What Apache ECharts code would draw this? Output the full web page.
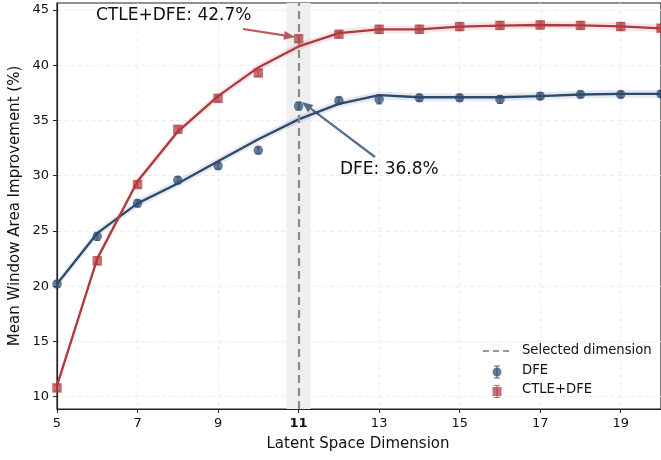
<!DOCTYPE html>
<html><head><meta charset="utf-8">
<script src="https://cdn.jsdelivr.net/npm/echarts@6/dist/echarts.min.js"></script>
<style>html,body{margin:0;padding:0;background:#fff}#c{width:661px;height:460px}</style>
</head><body><div id="c"></div>
<script>
const dims = [5,6,7,8,9,10,11,12,13,14,15,16,17,18,19,20];
const dfeMean = [20.2,24.5,27.5,29.6,30.9,32.3,36.3,36.8,36.9,37.05,37.05,36.9,37.2,37.35,37.35,37.4];
const dfeErr  = [0.25,0.35,0.3,0.3,0.3,0.3,0.35,0.3,0.4,0.3,0.3,0.35,0.3,0.3,0.3,0.3];
const dfeFit  = [20.2,24.8,27.5,29.3,31.3,33.3,35.1,36.5,37.3,37.1,37.1,37.1,37.2,37.35,37.4,37.4];
const ctleMean = [10.8,22.3,29.2,34.2,37.0,39.3,42.4,42.8,43.25,43.25,43.5,43.6,43.64,43.6,43.5,43.35];
const ctleErr  = [0.3,0.35,0.3,0.3,0.3,0.3,0.3,0.3,0.35,0.35,0.35,0.35,0.35,0.35,0.35,0.3];
const ctleFit  = [11.0,22.5,29.5,34.0,37.2,39.8,41.7,42.9,43.25,43.25,43.5,43.58,43.64,43.6,43.52,43.34];
const bandHalf = 0.35;
const xTicks = [5,7,9,11,13,15,17,19];
const yTicks = [10,15,20,25,30,35,40,45];
const selectedDim = 11;

const BLUE = '#2c4a6e', RED = '#b0393e';
const FONT = 'DejaVu Sans';
const chart = echarts.init(document.getElementById('c'));

function pairs(arr){ return dims.map((d,i)=>[d,arr[i]]); }
function errData(mean, err){ return dims.map((d,i)=>[d, mean[i]-err[i], mean[i]+err[i]]); }
function errSeries(mean, err, color){
  return {type:'custom', z:4, silent:true, data: errData(mean, err),
    renderItem:(params, api)=>{
      const x=api.value(0), p1=api.coord([x,api.value(1)]), p2=api.coord([x,api.value(2)]);
      const st={stroke:color, lineWidth:1.3, opacity:0.65};
      return {type:'group', children:[
        {type:'line', shape:{x1:p1[0],y1:p1[1],x2:p2[0],y2:p2[1]}, style:st},
        {type:'line', shape:{x1:p1[0]-3,y1:p1[1],x2:p1[0]+3,y2:p1[1]}, style:st},
        {type:'line', shape:{x1:p2[0]-3,y1:p2[1],x2:p2[0]+3,y2:p2[1]}, style:st}]};
    }};
}
function bandSeries(fit, color){
  const data = dims.slice(0,-1).map((d,i)=>[d, fit[i], dims[i+1], fit[i+1]]);
  return {type:'custom', z:1, silent:true, data:data,
    renderItem:(params, api)=>{
      const x0=api.value(0), y0=api.value(1), x1=api.value(2), y1=api.value(3);
      const pts=[api.coord([x0,y0+bandHalf]), api.coord([x1,y1+bandHalf]), api.coord([x1,y1-bandHalf]), api.coord([x0,y0-bandHalf])];
      return {type:'polygon', shape:{points:pts}, style:{fill:color, opacity:0.12}};
    }};
}
function arrow(x1,y1,x2,y2,color){
  const ang=Math.atan2(y2-y1,x2-x1), L=11, W=4.5;
  const bx=x2-L*Math.cos(ang), by=y2-L*Math.sin(ang);
  const px=-Math.sin(ang), py=Math.cos(ang);
  return [
    {type:'line', shape:{x1:x1,y1:y1,x2:bx,y2:by}, style:{stroke:color, lineWidth:2.2}, z:20},
    {type:'polygon', shape:{points:[[x2,y2],[bx+px*W,by+py*W],[bx-px*W,by-py*W]]}, style:{fill:color}, z:20}
  ];
}
function legendMarker(cx, cy, color, shape){
  const st={stroke:color, lineWidth:1.2, opacity:0.7};
  const m = shape==='circle'
    ? {type:'circle', shape:{cx:cx,cy:cy,r:4.5}, style:{fill:color, opacity:0.72}, z:20}
    : {type:'rect', shape:{x:cx-4.5,y:cy-4.5,width:9,height:9}, style:{fill:color, opacity:0.72}, z:20};
  return [
    {type:'line', shape:{x1:cx,y1:cy-6,x2:cx,y2:cy+6}, style:st, z:20},
    {type:'line', shape:{x1:cx-3,y1:cy-6,x2:cx+3,y2:cy-6}, style:st, z:20},
    {type:'line', shape:{x1:cx-3,y1:cy+6,x2:cx+3,y2:cy+6}, style:st, z:20},
    m];
}

const option = {
  animation:false,
  grid:{left:57, top:3, width:607, height:406, show:true, borderColor:'#222', borderWidth:1.2},
  xAxis:{type:'value', min:5, max:20,
    axisLine:{show:true, onZero:false, lineStyle:{color:'#222', width:1.2}},
    axisTick:{show:true, length:4, customValues:xTicks, lineStyle:{color:'#222'}},
    axisLabel:{customValues:xTicks, color:'#111', fontFamily:FONT, fontSize:13, margin:8,
      formatter:v=>v===selectedDim?'{b|'+v+'}':''+v, rich:{b:{fontWeight:'bold', fontFamily:FONT, fontSize:13, color:'#111'}}},
    splitLine:{show:true, lineStyle:{color:'#ebebeb', type:[4,3], width:1}}},
  yAxis:{type:'value', min:8.89, max:45.63,
    axisLine:{show:true, onZero:false, lineStyle:{color:'#222', width:1.2}},
    axisTick:{show:true, length:4, customValues:yTicks, lineStyle:{color:'#222'}},
    axisLabel:{customValues:yTicks, color:'#111', fontFamily:FONT, fontSize:13, margin:8},
    splitLine:{show:true, lineStyle:{color:'#ebebeb', type:[4,3], width:1}}},
  series:[
    {type:'line', data:[], silent:true, z:0,
      markArea:{silent:true, itemStyle:{color:'#efefef', opacity:1}, data:[[{xAxis:selectedDim-0.3},{xAxis:selectedDim+0.3}]]}},
    bandSeries(dfeFit, BLUE),
    bandSeries(ctleFit, RED),
    {type:'line', data:pairs(dfeFit), symbol:'none', lineStyle:{color:BLUE, width:2.3}, z:3},
    {type:'line', data:pairs(ctleFit), symbol:'none', lineStyle:{color:RED, width:2.3}, z:3},
    errSeries(dfeMean, dfeErr, BLUE),
    errSeries(ctleMean, ctleErr, RED),
    {type:'scatter', data:pairs(dfeMean), symbol:'circle', symbolSize:9.5, itemStyle:{color:BLUE, opacity:0.72}, z:5},
    {type:'scatter', data:pairs(ctleMean), symbol:'rect', symbolSize:9.5, itemStyle:{color:RED, opacity:0.72}, z:5},
    {type:'line', data:[], silent:true, z:6,
      markLine:{silent:true, symbol:'none', label:{show:false}, lineStyle:{color:'#8a8a8a', type:[8,5], width:2.2}, data:[{xAxis:selectedDim}]}}
  ],
  graphic:[
    {type:'text', x:96, y:16, style:{text:'CTLE+DFE: 42.7%', font:'17px "DejaVu Sans"', fill:'#111', verticalAlign:'middle'}, z:20},
    {type:'text', x:340, y:170, style:{text:'DFE: 36.8%', font:'17px "DejaVu Sans"', fill:'#111', verticalAlign:'middle'}, z:20},
    ...arrow(243,29,295,37,'rgba(176,57,62,0.85)'),
    ...arrow(375,157,302,102,'rgba(44,74,110,0.8)'),
    {type:'text', x:15, y:206, rotation:Math.PI/2, style:{text:'Mean Window Area Improvement (%)', font:'15px "DejaVu Sans"', fill:'#111', align:'center', verticalAlign:'middle'}, z:20},
    {type:'text', x:358, y:444, style:{text:'Latent Space Dimension', font:'15px "DejaVu Sans"', fill:'#111', align:'center', verticalAlign:'middle'}, z:20},
    // legend
    {type:'line', shape:{x1:483,y1:351,x2:510,y2:351}, style:{stroke:'#999', lineWidth:2.2, lineDash:[6,4]}, z:20},
    {type:'text', x:522, y:351, style:{text:'Selected dimension', font:'13.2px "DejaVu Sans"', fill:'#111', verticalAlign:'middle'}, z:20},
    ...legendMarker(497, 372, BLUE, 'circle'),
    {type:'text', x:522, y:371, style:{text:'DFE', font:'13.2px "DejaVu Sans"', fill:'#111', verticalAlign:'middle'}, z:20},
    ...legendMarker(497, 391.5, RED, 'rect'),
    {type:'text', x:522, y:390, style:{text:'CTLE+DFE', font:'13.2px "DejaVu Sans"', fill:'#111', verticalAlign:'middle'}, z:20}
  ]
};
chart.setOption(option);
</script></body></html>
